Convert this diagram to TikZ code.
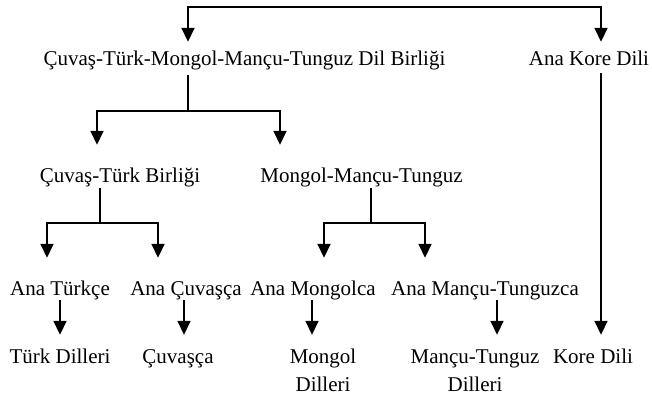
\documentclass[tikz,border=0pt]{standalone}
\usepackage{fontspec}
\setmainfont{Liberation Serif}
\usetikzlibrary{arrows.meta}
\begin{document}
\begin{tikzpicture}[x=1pt,y=-1pt,
  lbl/.style={font=\fontsize{21}{28.5}\selectfont, inner sep=0pt, text height=16pt, text depth=5pt, anchor=base},
  ln/.style={line width=1.7pt},
  tip/.style={-{Triangle[width=13pt,length=14pt]}},
  arr/.style={ln, tip},
]
\useasboundingbox (0,0) rectangle (652,399);
% nodes
\node[lbl] (main) at (244.5,65) {Çuvaş-Türk-Mongol-Mançu-Tunguz Dil Birliği};
\node[lbl] (kore) at (589,65) {Ana Kore Dili};
\node[lbl] (ctb) at (120,182) {Çuvaş-Türk Birliği};
\node[lbl] (mmt) at (361.5,182) {Mongol-Mançu-Tunguz};
\node[lbl] (at) at (60,295) {Ana Türkçe};
\node[lbl] (ac) at (186,295) {Ana Çuvaşça};
\node[lbl] (am) at (313,295) {Ana Mongolca};
\node[lbl] (amt) at (485,295) {Ana Mançu-Tunguzca};
\node[lbl] (td) at (60,363) {Türk Dilleri};
\node[lbl] (cv) at (178,363) {Çuvaşça};
\node[lbl] (md) at (323,363) {\begin{tabular}[t]{@{}c@{}}Mongol\\Dilleri\end{tabular}};
\node[lbl] (mtd) at (475,363) {\begin{tabular}[t]{@{}c@{}}Mançu-Tunguz\\Dilleri\end{tabular}};
\node[lbl] (kd) at (593,363) {Kore Dili};
% coordinates
\coordinate (xA) at (188,7);
\coordinate (xB) at (601,7);
\coordinate (j1) at (188,111);
\coordinate (xC) at (97,0);
\coordinate (xD) at (280,0);
\coordinate (j2) at (100,223);
\coordinate (xE) at (47,0);
\coordinate (xF) at (158,0);
\coordinate (j3) at (371,223);
\coordinate (xG) at (324,0);
\coordinate (xH) at (425,0);
\coordinate (xI) at (60,0);
\coordinate (xJ) at (184,0);
\coordinate (xK) at (312,0);
\coordinate (xL) at (497,0);
% top connector
\draw[ln, {Triangle[width=13pt,length=14pt]}-{Triangle[width=13pt,length=14pt]}, shorten <=7pt, shorten >=7pt]
  (main.north -| xA) -- (xA) -- (xB) -- (kore.north -| xB);
\draw[arr, shorten <=3pt, shorten >=12pt] (kore.south -| xB) -- (kd.north -| xB);
% first split
\draw[ln, shorten <=5pt] (main.south -| j1) -- (j1);
\draw[arr, shorten >=21pt] (j1) -| (ctb.north -| xC);
\draw[arr, shorten >=21pt] (j1) -| (mmt.north -| xD);
% second split
\draw[ln, shorten <=1pt] (ctb.south -| j2) -- (j2);
\draw[arr, shorten >=21pt] (j2) -| (at.north -| xE);
\draw[arr, shorten >=21pt] (j2) -| (ac.north -| xF);
\draw[ln, shorten <=1pt] (mmt.south -| j3) -- (j3);
\draw[arr, shorten >=21pt] (j3) -| (am.north -| xG);
\draw[arr, shorten >=21pt] (j3) -| (amt.north -| xH);
% last arrows
\draw[arr, shorten >=12pt] (at.south -| xI) -- (td.north -| xI);
\draw[arr, shorten >=12pt] (ac.south -| xJ) -- (cv.north -| xJ);
\draw[arr, shorten >=12pt] (am.south -| xK) -- (md.north -| xK);
\draw[arr, shorten >=12pt] (amt.south -| xL) -- (mtd.north -| xL);
\end{tikzpicture}
\end{document}
